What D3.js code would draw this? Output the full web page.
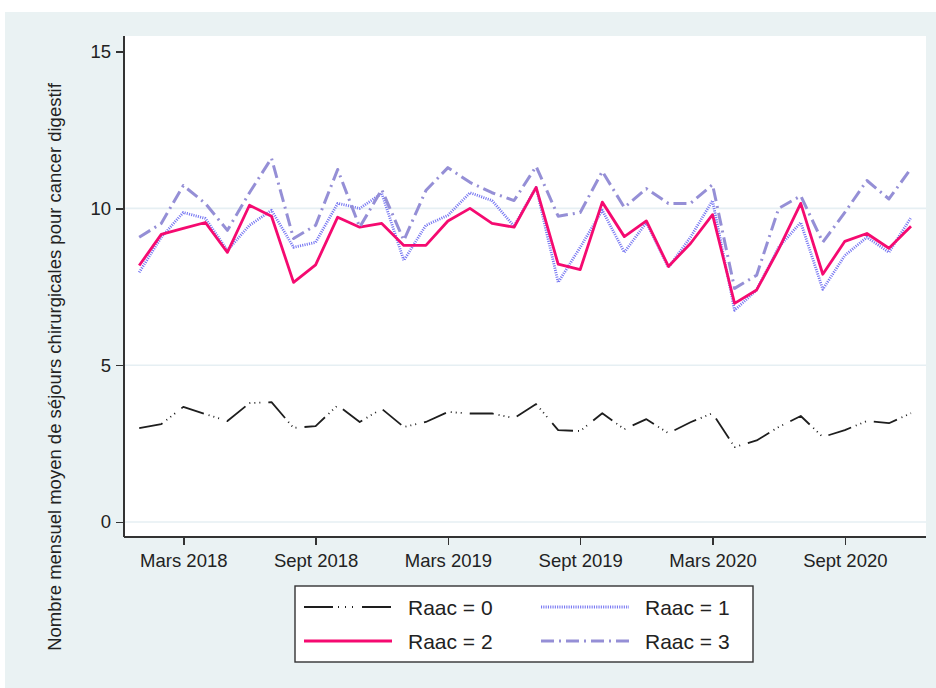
<!DOCTYPE html>
<html lang="fr">

<head>
  <meta charset="utf-8">
  <title>Raac - séjours chirurgicaux</title>
  <style>
    body {
      margin: 0;
      background: #fff;
    }

    svg text {
      font-family: "Liberation Sans", Arial, sans-serif;
      fill: #222;
    }

    .axis path,
    .axis line {
      stroke: #333;
      stroke-width: 1.4;
      shape-rendering: crispEdges;
    }

    .axis text {
      font-size: 18.5px;
    }

    .grid line {
      stroke: #e6eff3;
      stroke-width: 1.6;
    }
  </style>
</head>

<body>
  <div id="chart"></div>
</body>
<script src="https://d3js.org/d3.v7.min.js"></script>

<script>

  // mois de janvier 2018 à décembre 2020
  let mois = [
    "2018-01", "2018-02", "2018-03", "2018-04", "2018-05", "2018-06",
    "2018-07", "2018-08", "2018-09", "2018-10", "2018-11", "2018-12",
    "2019-01", "2019-02", "2019-03", "2019-04", "2019-05", "2019-06",
    "2019-07", "2019-08", "2019-09", "2019-10", "2019-11", "2019-12",
    "2020-01", "2020-02", "2020-03", "2020-04", "2020-05", "2020-06",
    "2020-07", "2020-08", "2020-09", "2020-10", "2020-11", "2020-12"
  ];

  let raac0 = [2.99, 3.12, 3.67, 3.44, 3.22, 3.79, 3.82, 3.0, 3.06, 3.72, 3.19, 3.61,
    3.03, 3.19, 3.51, 3.46, 3.46, 3.31, 3.76, 2.93, 2.9, 3.47, 2.96, 3.28,
    2.83, 3.18, 3.47, 2.39, 2.6, 3.03, 3.38, 2.71, 2.93, 3.22, 3.15, 3.47];

  let raac1 = [7.96, 9.08, 9.87, 9.68, 8.66, 9.46, 9.94, 8.76, 8.92, 10.16, 10.0, 10.48,
    8.34, 9.46, 9.78, 10.5, 10.25, 9.43, 10.67, 7.64, 8.76, 9.94, 8.6, 9.55,
    8.12, 9.08, 10.25, 6.75, 7.4, 8.76, 9.55, 7.42, 8.5, 9.08, 8.6, 9.71];

  let raac2 = [8.18, 9.17, 9.36, 9.55, 8.6, 10.1, 9.75, 7.64, 8.2, 9.72, 9.4, 9.52,
    8.82, 8.82, 9.6, 10.0, 9.52, 9.4, 10.67, 8.22, 8.05, 10.2, 9.1, 9.6,
    8.15, 8.88, 9.8, 6.97, 7.4, 8.7, 10.16, 7.9, 8.95, 9.2, 8.73, 9.43];

  let raac3 = [9.08, 9.52, 10.73, 10.16, 9.3, 10.5, 11.6, 9.04, 9.46, 11.24, 9.4, 10.6,
    8.98, 10.57, 11.3, 10.83, 10.5, 10.25, 11.34, 9.75, 9.87, 11.18, 10.03, 10.63,
    10.16, 10.16, 10.76, 7.45, 7.87, 10.0, 10.4, 8.92, 9.87, 10.89, 10.3, 11.27];

  let xTickMois = ["2018-03", "2018-09", "2019-03", "2019-09", "2020-03", "2020-09"];
  let xTickLabels = ["Mars 2018", "Sept 2018", "Mars 2019", "Sept 2019", "Mars 2020", "Sept 2020"];
  let yTicks = [0, 5, 10, 15];

  let series = [
    { nom: "Raac = 0", val: raac0, color: "#1e1e1e", width: 1.8, dash: "24 5 1 4 1 4 1 8" },
    { nom: "Raac = 1", val: raac1, color: "#7878f2", width: 2.8, dash: "1.1 1.2" },
    { nom: "Raac = 2", val: raac2, color: "#f50a70", width: 2.8, dash: null },
    { nom: "Raac = 3", val: raac3, color: "#958fd6", width: 3, dash: "13 5 2 5" }
  ];

  let W = 936, H = 688;

  let svg = d3.select("#chart")
    .append("svg")
    .attr("width", W)
    .attr("height", H);

  // fond
  svg.append("rect")
    .attr("x", 5).attr("y", 12)
    .attr("width", W - 5).attr("height", H - 12)
    .attr("fill", "#eaf2f3");

  let plot = { left: 124, right: 926, top: 36, bottom: 537 };

  svg.append("rect")
    .attr("x", plot.left).attr("y", plot.top)
    .attr("width", plot.right - plot.left).attr("height", plot.bottom - plot.top)
    .attr("fill", "#fff");

  let x = d3.scaleLinear().domain([0, 35]).range([139.2, 911]);
  let y = d3.scaleLinear().domain([0, 15]).range([522, 51.6]);

  // grille
  svg.append("g")
    .attr("class", "grid")
    .selectAll("line")
    .data([0, 5, 10])
    .enter()
    .append("line")
    .attr("x1", plot.left)
    .attr("x2", plot.right)
    .attr("y1", (d) => y(d))
    .attr("y2", (d) => y(d));

  // axes
  let yAxis = svg.append("g")
    .attr("class", "axis")
    .attr("transform", "translate(" + plot.left + ",0)")
    .call(d3.axisLeft(y).tickValues(yTicks).tickSize(8).tickPadding(5).tickSizeOuter(0));
  yAxis.select(".domain").attr("d", "M0," + plot.top + "V" + plot.bottom);

  let xAxis = svg.append("g")
    .attr("class", "axis")
    .attr("transform", "translate(0," + plot.bottom + ")")
    .call(d3.axisBottom(x)
      .tickValues(xTickMois.map((m) => mois.indexOf(m)))
      .tickFormat((d, i) => xTickLabels[i])
      .tickSize(8).tickPadding(9).tickSizeOuter(0));
  xAxis.select(".domain").attr("d", "M" + plot.left + ",0H" + plot.right);

  // titre axe y
  svg.append("text")
    .attr("transform", "translate(61,367) rotate(-90)")
    .attr("text-anchor", "middle")
    .style("font-size", "18.5px")
    .text("Nombre mensuel moyen de séjours chirurgicales pour cancer digestif");

  // courbes
  let line = d3.line()
    .x((d, i) => x(i))
    .y((d) => y(d));

  series.forEach((s) => {
    svg.append("path")
      .datum(s.val)
      .attr("fill", "none")
      .attr("stroke", s.color)
      .attr("stroke-width", s.width)
      .attr("stroke-dasharray", s.dash)
      .attr("stroke-linejoin", "round")
      .attr("d", line);
  });

  // légende
  let leg = svg.append("g");
  leg.append("rect")
    .attr("x", 295).attr("y", 586)
    .attr("width", 458).attr("height", 76)
    .attr("fill", "#fff")
    .attr("stroke", "#333")
    .attr("stroke-width", 1.4);

  let legPos = [
    { x1: 304, x2: 392, tx: 408, y: 607 },
    { x1: 541, x2: 629, tx: 645, y: 607 },
    { x1: 304, x2: 392, tx: 408, y: 641 },
    { x1: 541, x2: 629, tx: 645, y: 641 }
  ];

  series.forEach((s, i) => {
    let p = legPos[i];
    leg.append("line")
      .attr("x1", p.x1).attr("x2", p.x2)
      .attr("y1", p.y).attr("y2", p.y)
      .attr("stroke", s.color)
      .attr("stroke-width", s.width)
      .attr("stroke-dasharray", i == 0 ? "29 5 1 6 1 6 1 9" : s.dash);
    leg.append("text")
      .attr("x", p.tx)
      .attr("y", p.y)
      .attr("dy", "0.36em")
      .style("font-size", "21px")
      .text(s.nom);
  });

</script>

</html>
